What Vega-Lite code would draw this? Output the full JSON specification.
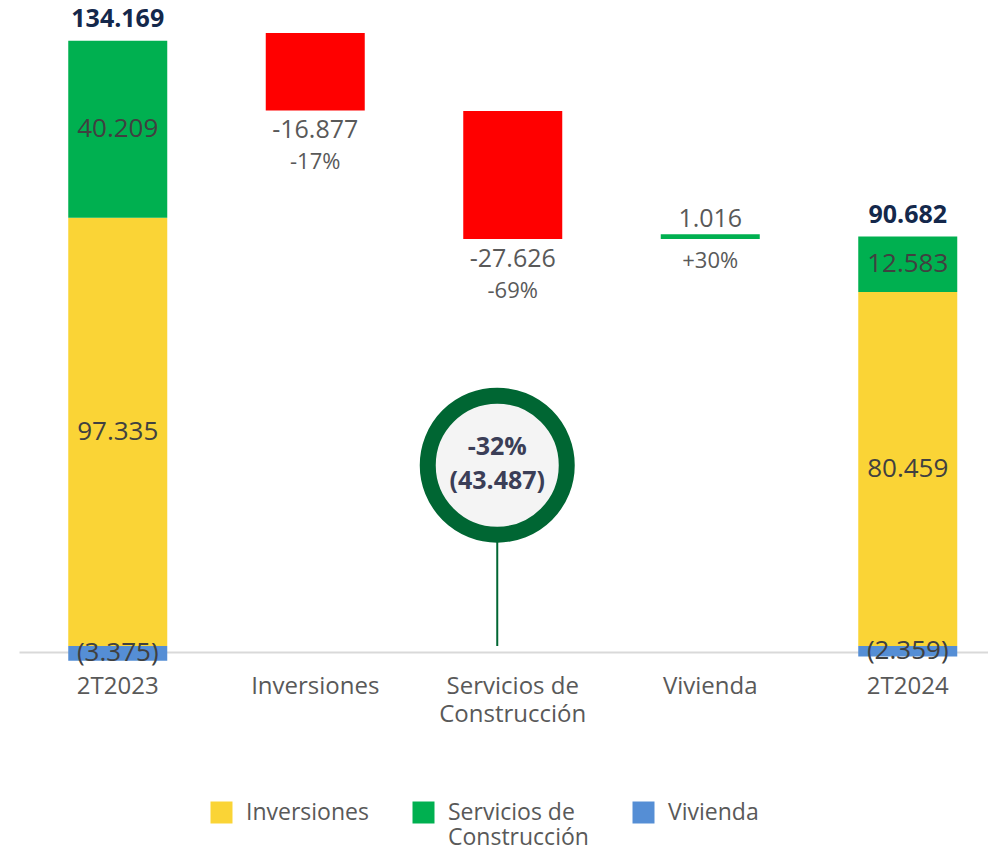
{
  "$schema": "https://vega.github.io/schema/vega-lite/v6.json",
  "autosize": {"type": "none"},
  "padding": {"left": 19, "top": 0, "right": 0, "bottom": 199},
  "width": 969,
  "height": 652,
  "background": "white",
  "config": {"view": {"stroke": null}, "font": "Open Sans"},
  "datasets": {
    "stacked": [
      {"cat": "2T2023", "series": "Inversiones", "value": 97.335},
      {"cat": "2T2023", "series": "Servicios de Construcción", "value": 40.209},
      {"cat": "2T2023", "series": "Vivienda", "value": -3.375},
      {"cat": "2T2024", "series": "Inversiones", "value": 80.459},
      {"cat": "2T2024", "series": "Servicios de Construcción", "value": 12.583},
      {"cat": "2T2024", "series": "Vivienda", "value": -2.359}
    ],
    "totals": [
      {"cat": "2T2023", "total": 134.169},
      {"cat": "2T2024", "total": 90.682}
    ],
    "floats": [
      {"cat": "Inversiones", "start": 139.3, "end": 121.7, "delta": -16.877, "pct": "-17%"},
      {"cat": "Servicios de Construcción", "start": 121.6, "end": 92.5, "delta": -27.626, "pct": "-69%"},
      {"cat": "Vivienda", "start": 92.5, "end": 93.6, "delta": 1.016, "pct": "+30%"}
    ],
    "note": [
      {"cat": "Servicios de Construcción", "pos": 41.1, "base": 0, "pct": "-32%", "amount": "(43.487)"}
    ]
  },
  "encoding": {
    "x": {
      "field": "cat",
      "type": "nominal",
      "sort": ["2T2023", "Inversiones", "Servicios de Construcción", "Vivienda", "2T2024"],
      "scale": {
        "domain": ["2T2023", "Inversiones", "Servicios de Construcción", "Vivienda", "2T2024"],
        "range": [0, 987.5],
        "paddingInner": 0,
        "paddingOuter": 0
      },
      "axis": {
        "title": null,
        "ticks": false,
        "domainColor": "#D9D9D9",
        "domainWidth": 2,
        "labelFont": "Open Sans",
        "labelFontSize": 24,
        "labelColor": "#595959",
        "labelPadding": 22,
        "labelLineHeight": 28,
        "labelAngle": 0,
        "labelLimit": 0,
        "labelExpr": "datum.label == 'Servicios de Construcción' ? ['Servicios de', 'Construcción'] : datum.label"
      }
    }
  },
  "layer": [
    {
      "data": {"name": "stacked"},
      "transform": [
        {"stack": "value", "groupby": ["cat"], "sort": [{"field": "series", "order": "ascending"}], "as": ["lo", "hi"], "offset": "zero"}
      ],
      "mark": {"type": "bar", "size": 99},
      "encoding": {
        "y": {"field": "lo", "type": "quantitative", "axis": null, "scale": {"domain": [-1.364, 146.82], "nice": false, "zero": false}},
        "y2": {"field": "hi"},
        "color": {
          "field": "series",
          "type": "nominal",
          "scale": {
            "domain": ["Inversiones", "Servicios de Construcción", "Vivienda"],
            "range": ["#FAD436", "#00B050", "#558ED5"]
          },
          "legend": {
            "orient": "none",
            "legendX": 191,
            "legendY": 801,
            "direction": "horizontal",
            "title": null,
            "padding": 0,
            "gridAlign": "none",
            "symbolType": "square",
            "symbolSize": 484,
            "symbolStrokeWidth": 0,
            "labelFont": "Open Sans",
            "labelFontSize": 23,
            "labelColor": "#595959",
            "labelLineHeight": 27,
            "labelOffset": 13,
            "columnPadding": 43,
            "labelLimit": 0,
            "labelExpr": "datum.label == 'Servicios de Construcción' ? ['Servicios de', 'Construcción'] : datum.label"
          }
        }
      }
    },
    {
      "data": {"name": "stacked"},
      "transform": [
        {"stack": "value", "groupby": ["cat"], "sort": [{"field": "series", "order": "ascending"}], "as": ["lo", "hi"], "offset": "zero"},
        {"calculate": "(datum.lo + datum.hi) / 2", "as": "mid"},
        {"calculate": "datum.value < 0 ? '(' + format(-datum.value, '.3f') + ')' : format(datum.value, '.3f')", "as": "lbl"}
      ],
      "mark": {"type": "text", "fontSize": 26, "color": "#404040", "baseline": "middle", "align": "center"},
      "encoding": {
        "y": {"field": "mid", "type": "quantitative", "axis": null, "scale": {"domain": [-1.364, 146.82], "nice": false, "zero": false}},
        "text": {"field": "lbl", "type": "nominal"}
      }
    },
    {
      "data": {"name": "stacked"},
      "transform": [
        {"stack": "value", "groupby": ["cat"], "sort": [{"field": "series", "order": "ascending"}], "as": ["lo", "hi"], "offset": "zero"},
        {"filter": "datum.series == 'Servicios de Construcción'"},
        {"lookup": "cat", "from": {"data": {"name": "totals"}, "key": "cat", "fields": ["total"]}}
      ],
      "mark": {"type": "text", "fontSize": 25, "fontWeight": "bold", "color": "#14284B", "baseline": "middle", "align": "center", "dy": -22},
      "encoding": {
        "y": {"field": "hi", "type": "quantitative", "axis": null, "scale": {"domain": [-1.364, 146.82], "nice": false, "zero": false}},
        "text": {"field": "total", "type": "quantitative", "format": ".3f"}
      }
    },
    {
      "data": {"name": "floats"},
      "mark": {"type": "bar", "size": 99},
      "encoding": {
        "y": {"field": "start", "type": "quantitative", "axis": null, "scale": {"domain": [-1.364, 146.82], "nice": false, "zero": false}},
        "y2": {"field": "end"},
        "color": {"condition": {"test": "datum.delta < 0", "value": "#FF0000"}, "value": "#00B050"}
      }
    },
    {
      "data": {"name": "floats"},
      "transform": [
        {"filter": "datum.delta < 0"},
        {"calculate": "'-' + format(abs(datum.delta), '.3f')", "as": "dl"}
      ],
      "mark": {"type": "text", "fontSize": 25, "color": "#595959", "baseline": "middle", "align": "center", "dy": 19.5},
      "encoding": {
        "y": {"field": "end", "type": "quantitative", "axis": null, "scale": {"domain": [-1.364, 146.82], "nice": false, "zero": false}},
        "text": {"field": "dl", "type": "nominal"}
      }
    },
    {
      "data": {"name": "floats"},
      "transform": [{"filter": "datum.delta < 0"}],
      "mark": {"type": "text", "fontSize": 22, "color": "#595959", "baseline": "middle", "align": "center", "dy": 51.5},
      "encoding": {
        "y": {"field": "end", "type": "quantitative", "axis": null, "scale": {"domain": [-1.364, 146.82], "nice": false, "zero": false}},
        "text": {"field": "pct", "type": "nominal"}
      }
    },
    {
      "data": {"name": "floats"},
      "transform": [{"filter": "datum.delta > 0"}],
      "mark": {"type": "text", "fontSize": 25, "color": "#595959", "baseline": "middle", "align": "center", "dy": -15},
      "encoding": {
        "y": {"field": "end", "type": "quantitative", "axis": null, "scale": {"domain": [-1.364, 146.82], "nice": false, "zero": false}},
        "text": {"field": "delta", "type": "quantitative", "format": ".3f"}
      }
    },
    {
      "data": {"name": "floats"},
      "transform": [{"filter": "datum.delta > 0"}],
      "mark": {"type": "text", "fontSize": 22, "color": "#595959", "baseline": "middle", "align": "center", "dy": 22},
      "encoding": {
        "y": {"field": "start", "type": "quantitative", "axis": null, "scale": {"domain": [-1.364, 146.82], "nice": false, "zero": false}},
        "text": {"field": "pct", "type": "nominal"}
      }
    },
    {
      "data": {"name": "note"},
      "mark": {"type": "rule", "color": "#006633", "strokeWidth": 2, "xOffset": -15.5},
      "encoding": {
        "y": {"field": "pos", "type": "quantitative", "axis": null, "scale": {"domain": [-1.364, 146.82], "nice": false, "zero": false}},
        "y2": {"field": "base"}
      }
    },
    {
      "data": {"name": "note"},
      "mark": {"type": "point", "shape": "circle", "filled": true, "fill": "#F4F4F4", "stroke": "#006633", "strokeWidth": 16, "size": 19321, "opacity": 1, "fillOpacity": 1, "strokeOpacity": 1, "xOffset": -15.5},
      "encoding": {
        "y": {"field": "pos", "type": "quantitative", "axis": null, "scale": {"domain": [-1.364, 146.82], "nice": false, "zero": false}}
      }
    },
    {
      "data": {"name": "note"},
      "mark": {"type": "text", "fontSize": 25, "fontWeight": "bold", "color": "#3B3E57", "baseline": "middle", "align": "center", "dy": -18, "xOffset": -15.5},
      "encoding": {
        "y": {"field": "pos", "type": "quantitative", "axis": null, "scale": {"domain": [-1.364, 146.82], "nice": false, "zero": false}},
        "text": {"field": "pct", "type": "nominal"}
      }
    },
    {
      "data": {"name": "note"},
      "mark": {"type": "text", "fontSize": 25, "fontWeight": "bold", "color": "#3B3E57", "baseline": "middle", "align": "center", "dy": 16, "xOffset": -15.5},
      "encoding": {
        "y": {"field": "pos", "type": "quantitative", "axis": null, "scale": {"domain": [-1.364, 146.82], "nice": false, "zero": false}},
        "text": {"field": "amount", "type": "nominal"}
      }
    }
  ]
}
